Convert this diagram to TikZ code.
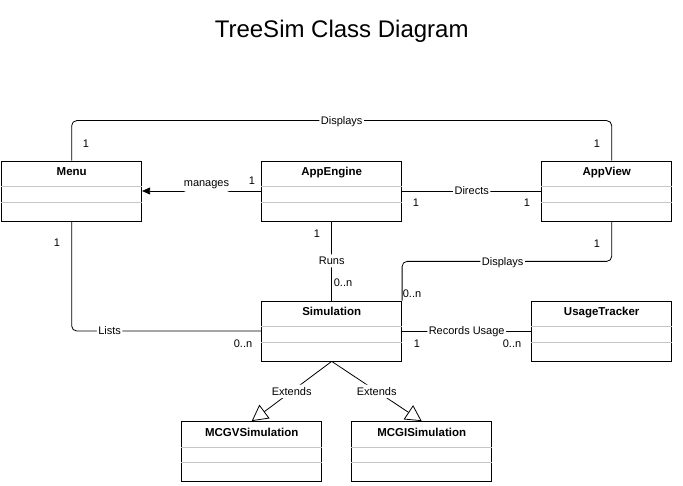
\documentclass[tikz,border=0pt]{standalone}
\usepackage{fontspec}
\setmainfont{Liberation Sans}
\usetikzlibrary{arrows.meta,positioning,calc}

\tikzset{
  umlclass/.style={draw, line width=0.8pt, minimum width=140pt, minimum height=60pt,
    inner xsep=2pt, inner ysep=4pt, text height=11pt, text depth=41pt,
    font=\bfseries\fontsize{11.5}{14}\selectfont},
  compart/.style={gray!45, line width=1pt},
  assoc/.style={line width=0.8pt, rounded corners=5pt},
  navig/.style={assoc, -{Triangle[length=8pt, width=7pt]}},
  inherit/.style={assoc, -{Triangle[open, length=16pt, width=17pt]}},
  lbl/.style={fill=white, inner sep=1.5pt, text height=9pt, text depth=1pt,
    font=\fontsize{11}{13}\selectfont},
  mult/.style={inner sep=0pt, font=\fontsize{11}{13}\selectfont}
}

\begin{document}
\begin{tikzpicture}[x=1pt,y=-1pt]
  \useasboundingbox (0,0) rectangle (683,486);

  % Title
  \node[anchor=base, font=\fontsize{24}{28}\selectfont] (title) at (341.7,38) {TreeSim Class Diagram};

  % Classes
  \node[umlclass] (menu) at (71.7,191) {Menu};
  \node[umlclass] (appengine) at (331.7,191) {AppEngine};
  \node[umlclass, minimum width=130pt] (appview) at (606.7,191) {AppView};
  \node[umlclass] (simulation) at (331.7,331) {Simulation};
  \node[umlclass] (usagetracker) at (601.7,331) {UsageTracker};
  \node[umlclass] (mcgv) at (251.7,451.5) {MCGVSimulation};
  \node[umlclass] (mcgi) at (421.7,451.5) {MCGISimulation};

  % Compartments
  \foreach \c in {menu,appengine,appview,simulation,usagetracker,mcgv,mcgi} {
    \draw[compart] ([yshift=-26pt]\c.north west) -- ([yshift=-26pt]\c.north east);
    \draw[compart] ([yshift=-41.5pt]\c.north west) -- ([yshift=-41.5pt]\c.north east);
  }

  % Associations
  \draw[assoc] (menu.north) -- ++(0,-40) -| node[lbl, pos=0.25] {Displays} ([xshift=5pt]appview.north);
  \draw[navig] (appengine.west) -- node[lbl, pos=0.46, yshift=8pt, inner ysep=4.5pt] {manages} (menu.east);
  \draw[assoc] (appengine.east) -- node[lbl] {Directs} (appview.west);
  \draw[assoc] (appengine.south) -- node[lbl] {Runs} (simulation.north);
  \draw[assoc] ([xshift=5pt]appview.south) -- ++(0,40) -| node[lbl, pos=0.26] {Displays} (simulation.north east);
  \draw[assoc] (menu.south) |- node[lbl, pos=0.6] {Lists} (simulation.west);
  \draw[assoc] (simulation.east) -- node[lbl] {Records Usage} (usagetracker.west);

  % Inheritance
  \draw[inherit] (simulation.south) -- node[lbl] {Extends} (mcgv.north);
  \draw[inherit] (simulation.south) -- node[lbl] {Extends} (mcgi.north);

  % Multiplicities
  \foreach \x/\y/\t [count=\i] in {86/144/1, 597/144/1, 252/181/1, 416/203/1, 527/203/1,
      317/234/1, 343/283/0..n, 57/243/1, 597/244/1, 412/294/0..n,
      243/344/0..n, 417/344/1, 512/344/0..n} {
    \node[mult] (mult\i) at (\x,\y) {\t};
  }
\end{tikzpicture}
\end{document}
